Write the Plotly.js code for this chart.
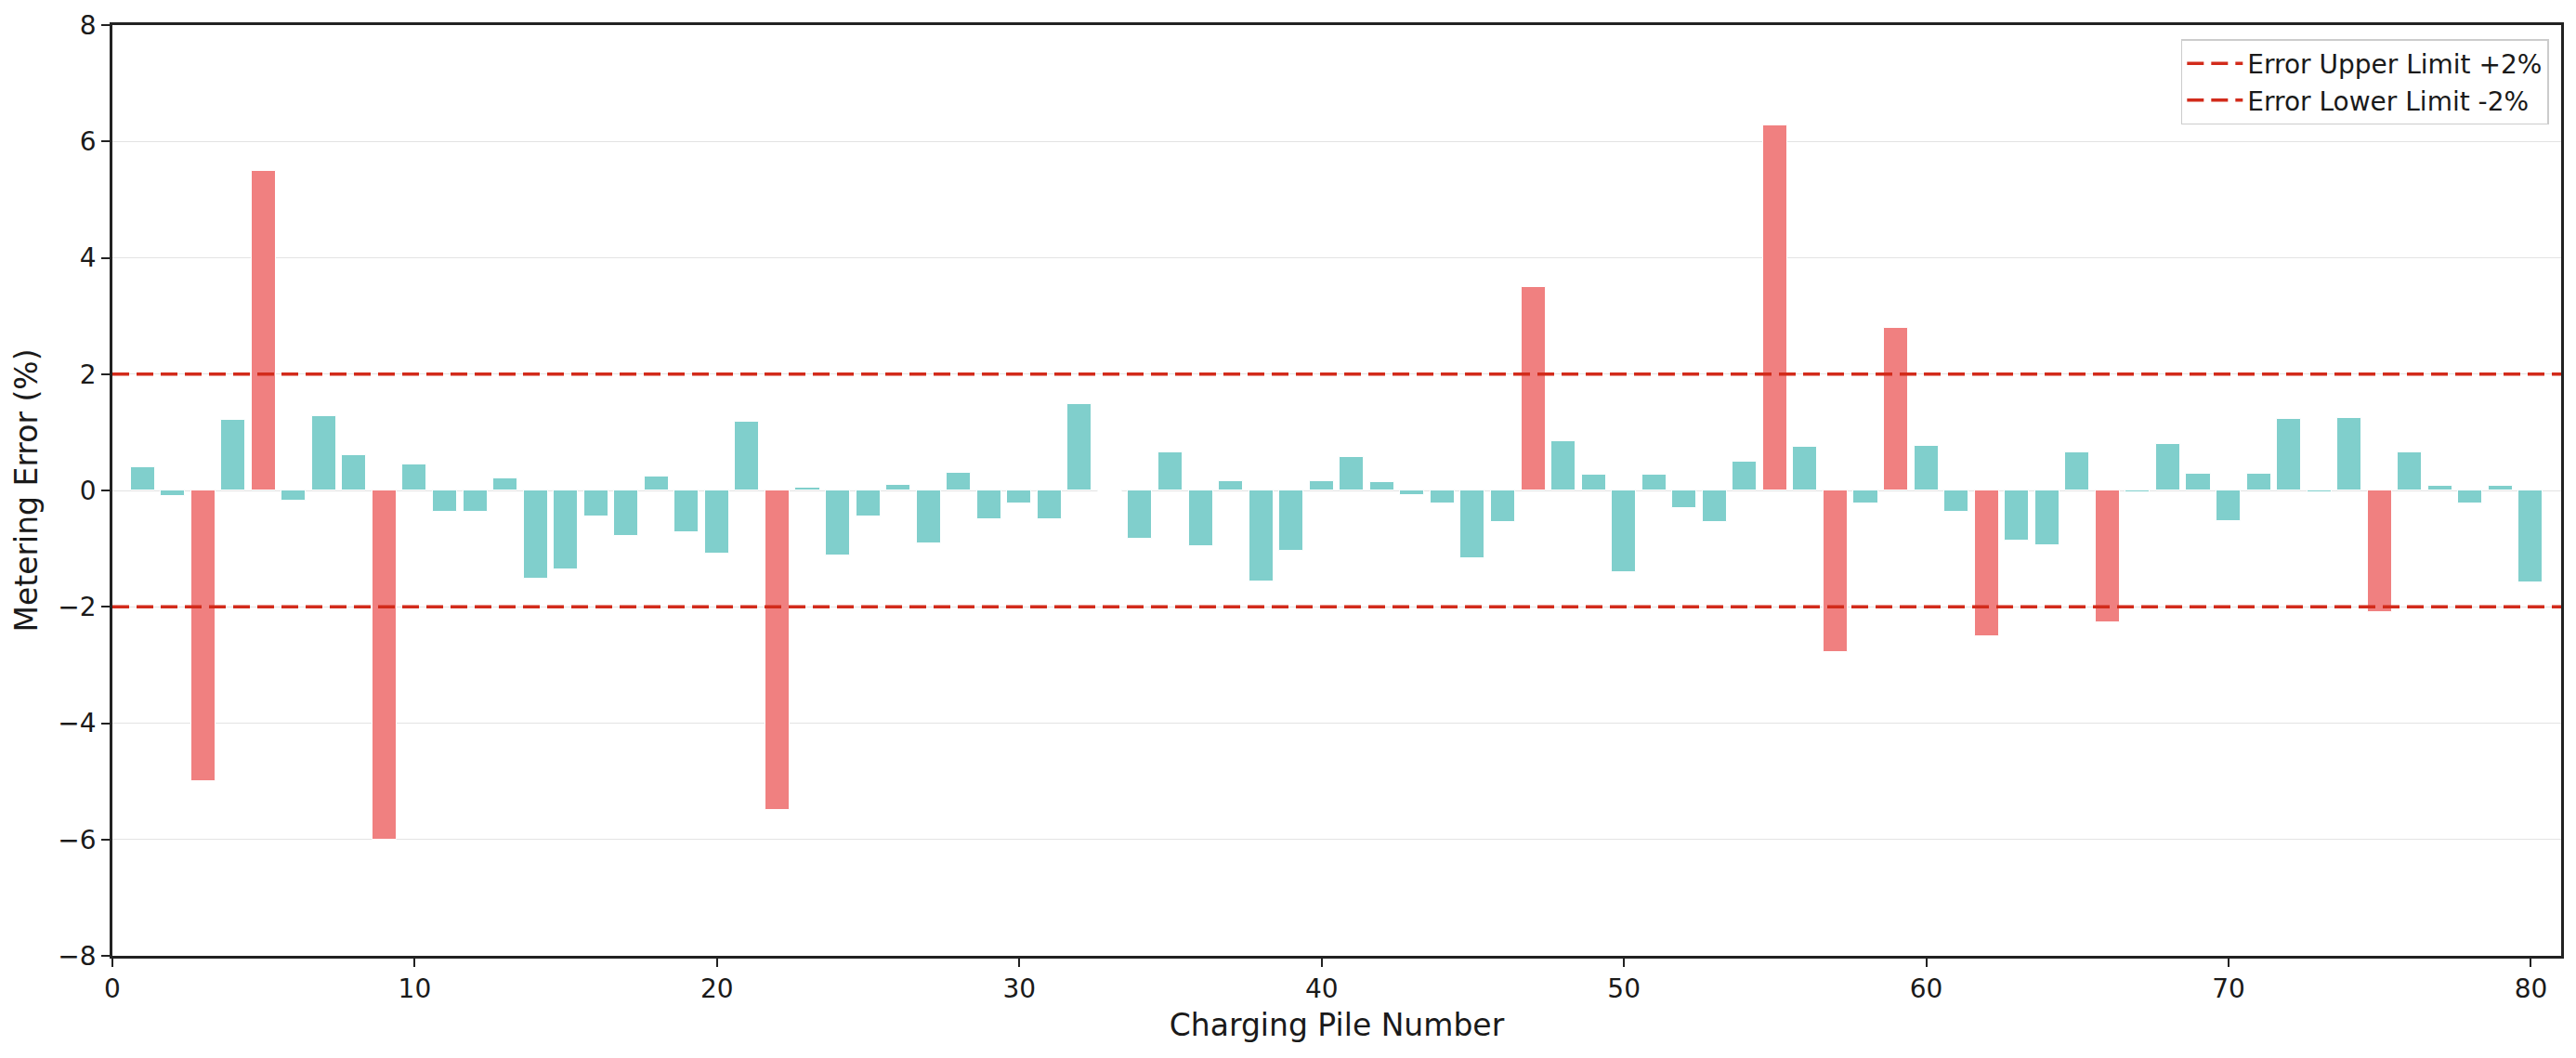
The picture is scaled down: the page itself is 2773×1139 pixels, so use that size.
<!DOCTYPE html>
<html>
<head>
<meta charset="utf-8">
<script src="https://cdn.plot.ly/plotly-3.0.1.min.js"></script>
<style>
  html, body { margin: 0; padding: 0; background: #ffffff; }
  #chart { width: 2773px; height: 1139px; }
</style>
</head>
<body>
<div id="chart"></div>
<script>
// Charging pile numbers 1..80 and their metering error (%)
const pileNumbers = [
   1,  2,  3,  4,  5,  6,  7,  8,  9, 10,
  11, 12, 13, 14, 15, 16, 17, 18, 19, 20,
  21, 22, 23, 24, 25, 26, 27, 28, 29, 30,
  31, 32, 33, 34, 35, 36, 37, 38, 39, 40,
  41, 42, 43, 44, 45, 46, 47, 48, 49, 50,
  51, 52, 53, 54, 55, 56, 57, 58, 59, 60,
  61, 62, 63, 64, 65, 66, 67, 68, 69, 70,
  71, 72, 73, 74, 75, 76, 77, 78, 79, 80
];
const meteringError = [
   0.40, -0.10, -5.00,  1.22,  5.50, -0.17,  1.27,  0.60, -6.00,  0.45,
  -0.37, -0.37,  0.21, -1.51, -1.36, -0.45, -0.79,  0.24, -0.72, -1.09,
   1.18, -5.50,  0.05, -1.12, -0.44,  0.09, -0.91,  0.31, -0.49, -0.22,
  -0.49,  1.49, -0.02, -0.83,  0.65, -0.96,  0.16, -1.56, -1.04,  0.16,
   0.58,  0.14, -0.08, -0.23, -1.16, -0.54,  3.50,  0.84,  0.27, -1.41,
   0.27, -0.30, -0.54,  0.49,  6.28,  0.75, -2.78, -0.23,  2.79,  0.77,
  -0.37, -2.50, -0.87, -0.94,  0.65, -2.27, -0.03,  0.80,  0.29, -0.52,
   0.29,  1.23, -0.03,  1.25, -2.09,  0.65,  0.08, -0.23,  0.08, -1.58
];
const upperLimit = 2;
const lowerLimit = -2;
const limitNames = ['Error Upper Limit +2%', 'Error Lower Limit -2%'];
const xSpan = [0, 81];

const okColor = 'rgb(128,207,204)';
const badColor = 'rgb(240,128,128)';
const limitColor = '#d22b1b';

const barColors = meteringError.map(v => (v > upperLimit || v < lowerLimit) ? badColor : okColor);

const bars = {
  type: 'bar',
  x: pileNumbers,
  y: meteringError,
  width: 0.8,
  marker: { color: barColors, line: { color: '#ffffff', width: 1 } },
  showlegend: false,
  hoverinfo: 'x+y'
};

const upper = {
  type: 'scatter',
  mode: 'lines',
  x: xSpan,
  y: [upperLimit, upperLimit],
  name: limitNames[0],
  line: { color: limitColor, width: 3.5, dash: '18px,8px' }
};

const lower = {
  type: 'scatter',
  mode: 'lines',
  x: xSpan,
  y: [lowerLimit, lowerLimit],
  name: limitNames[1],
  line: { color: limitColor, width: 3.5, dash: '18px,8px' }
};

const font = "'DejaVu Sans', Verdana, sans-serif";

const layout = {
  width: 2773,
  height: 1139,
  paper_bgcolor: '#ffffff',
  plot_bgcolor: '#ffffff',
  font: { family: font, color: '#1a1a1a', size: 28 },
  margin: { l: 121, r: 16, t: 27, b: 110 },
  bargap: 0,
  xaxis: {
    range: xSpan,
    tickvals: [0, 10, 20, 30, 40, 50, 60, 70, 80],
    ticks: 'outside',
    ticklen: 9,
    tickwidth: 2,
    tickcolor: '#222',
    tickfont: { size: 28, family: font, color: '#1a1a1a' },
    showgrid: false,
    zeroline: false,
    showline: true,
    linecolor: '#222',
    linewidth: 2.5,
    mirror: true,
    title: { text: 'Charging Pile Number', font: { size: 33, family: font, color: '#1a1a1a' }, standoff: 12 }
  },
  yaxis: {
    range: [-8, 8],
    tickvals: [-8, -6, -4, -2, 0, 2, 4, 6, 8],
    ticktext: ['\u22128', '\u22126', '\u22124', '\u22122', '0', '2', '4', '6', '8'],
    ticks: 'outside',
    ticklen: 9,
    tickwidth: 2,
    tickcolor: '#222',
    tickfont: { size: 28, family: font, color: '#1a1a1a' },
    showgrid: true,
    gridcolor: '#e3e3e3',
    gridwidth: 1.2,
    zeroline: false,
    showline: true,
    linecolor: '#222',
    linewidth: 2.5,
    mirror: true,
    title: { text: 'Metering Error (%)', font: { size: 33, family: font, color: '#1a1a1a' }, standoff: 12 }
  },
  legend: {
    x: 0.995,
    y: 0.985,
    xanchor: 'right',
    yanchor: 'top',
    bgcolor: 'rgba(255,255,255,0.9)',
    bordercolor: '#cccccc',
    borderwidth: 1.5,
    font: { size: 28, family: font, color: '#1a1a1a' },
    itemwidth: 60,
    tracegroupgap: 0
  }
};

Plotly.newPlot('chart', [bars, upper, lower], layout, { displayModeBar: false, responsive: false });
</script>
</body>
</html>
